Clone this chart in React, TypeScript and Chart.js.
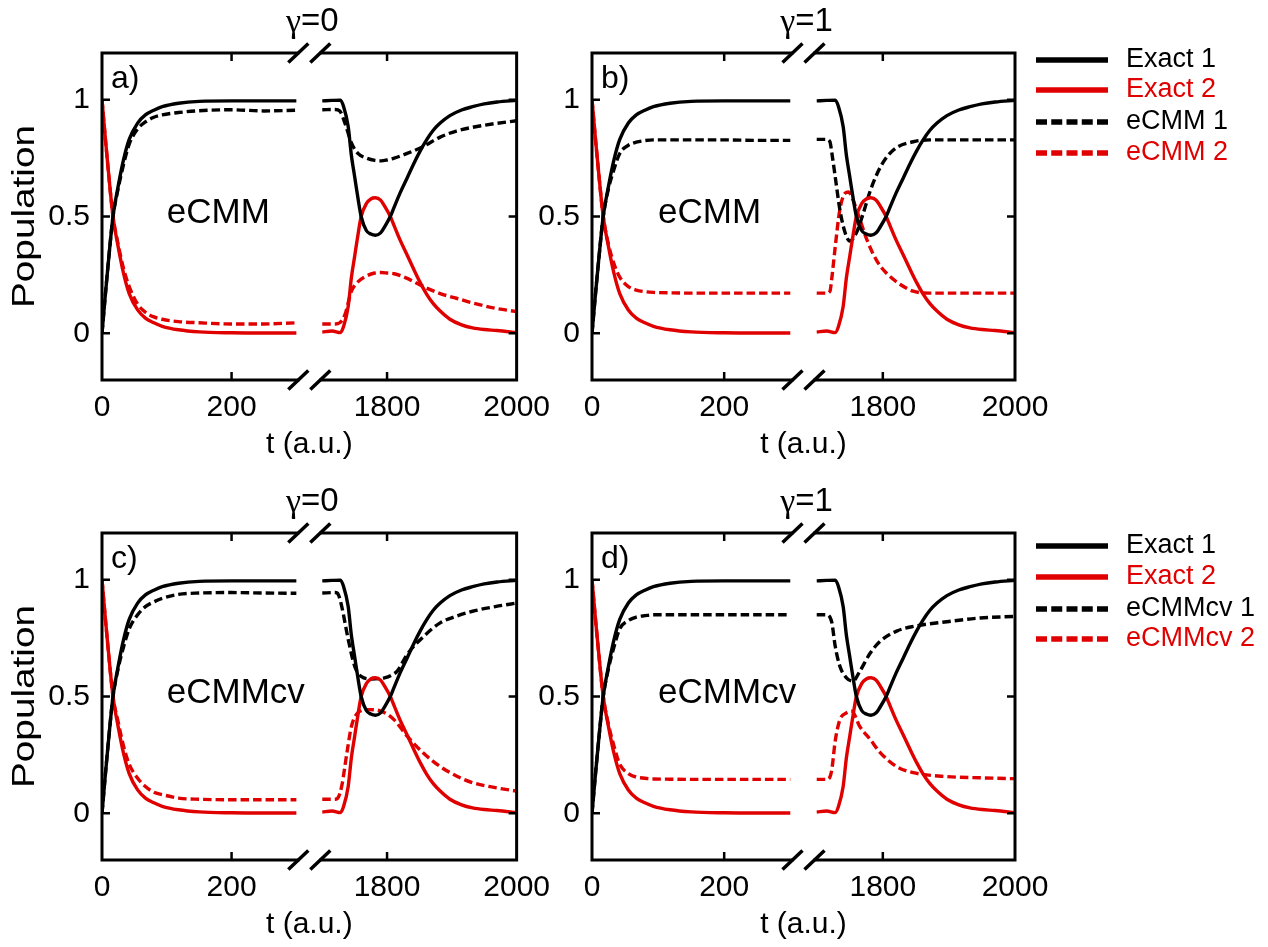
import { useEffect, useRef } from 'react';
import { Chart, registerables } from 'chart.js';
Chart.register(...registerables);

const SANS = "'Liberation Sans', Arial, sans-serif";
const SERIF = "'Liberation Serif', 'Times New Roman', serif";
const BLACK = '#000000';
const RED = '#e00000';

// broken time axis: [0, BREAK_LO] joined to [BREAK_HI, 2000]
const BREAK_LO = 320;
const BREAK_HI = 1680;
const X_TICKS = [0, 200, 1800, 2000];
const Y_TICKS = [0, 0.5, 1];

// ---- exact populations (same in every panel) ----
const tLeft = [0, 5, 10, 17, 25, 33, 42, 55, 67, 80, 93, 118, 150, 200, 250, 300];
const exact1Left = [0, 0.16, 0.31, 0.5, 0.63, 0.74, 0.83, 0.9, 0.935, 0.955, 0.97, 0.985, 0.993, 0.995, 0.995, 0.995];
const exact2Left = [1, 0.84, 0.69, 0.5, 0.37, 0.26, 0.17, 0.1, 0.065, 0.045, 0.03, 0.015, 0.006, 0.002, 0.001, 0.001];
const tExactRight = [1700, 1715, 1728, 1733, 1740, 1745, 1750, 1755, 1760, 1768, 1775, 1782, 1790, 1796, 1805, 1811, 1820, 1831, 1841, 1851, 1861, 1871, 1882, 1897, 1915, 1932, 1950, 1970, 2000];
const exact1Right = [0.995, 0.997, 0.998, 0.97, 0.885, 0.76, 0.67, 0.58, 0.5, 0.44, 0.425, 0.42, 0.43, 0.455, 0.5, 0.54, 0.6, 0.665, 0.725, 0.78, 0.828, 0.868, 0.9, 0.932, 0.956, 0.97, 0.982, 0.99, 0.997];
const exact2Right = [0.005, 0.01, 0.003, 0.03, 0.115, 0.24, 0.33, 0.42, 0.5, 0.555, 0.575, 0.58, 0.57, 0.545, 0.5, 0.46, 0.4, 0.335, 0.275, 0.218, 0.168, 0.128, 0.095, 0.06, 0.036, 0.023, 0.016, 0.012, 0.003];

// ---- panel a: eCMM, gamma = 0 ----
const a_e1Left = [0, 0.16, 0.31, 0.5, 0.62, 0.72, 0.81, 0.875, 0.905, 0.925, 0.935, 0.945, 0.953, 0.957, 0.952, 0.955];
const a_e2Left = [1, 0.84, 0.69, 0.5, 0.38, 0.28, 0.2, 0.125, 0.09, 0.07, 0.06, 0.05, 0.045, 0.04, 0.04, 0.045];
const a_tRight = [1700, 1720, 1727, 1735, 1745, 1755, 1768, 1781, 1791, 1800, 1811, 1831, 1856, 1882, 1907, 1932, 1967, 2000];
const a_e1Right = [0.957, 0.958, 0.952, 0.9, 0.815, 0.77, 0.75, 0.74, 0.738, 0.742, 0.75, 0.77, 0.8, 0.84, 0.866, 0.882, 0.898, 0.91];
const a_e2Right = [0.04, 0.04, 0.045, 0.08, 0.18, 0.22, 0.245, 0.258, 0.26, 0.258, 0.255, 0.235, 0.2, 0.17, 0.15, 0.13, 0.107, 0.093];

// ---- panel b: eCMM, gamma = 1 ----
const b_e1Left = [0, 0.16, 0.31, 0.5, 0.62, 0.7, 0.77, 0.805, 0.818, 0.825, 0.828, 0.828, 0.828, 0.828, 0.826, 0.826];
const b_e2Left = [1, 0.84, 0.69, 0.5, 0.38, 0.3, 0.24, 0.2, 0.185, 0.178, 0.175, 0.173, 0.172, 0.172, 0.172, 0.172];
const b_tRight1 = [1700, 1715, 1720, 1723, 1728, 1735, 1743, 1750, 1760, 1770, 1781, 1796, 1816, 1846, 1871, 1920, 2000];
const b_e1Right = [0.83, 0.83, 0.82, 0.77, 0.67, 0.53, 0.43, 0.395, 0.43, 0.51, 0.61, 0.71, 0.785, 0.82, 0.828, 0.828, 0.828];
const b_tRight2 = [1700, 1715, 1720, 1723, 1728, 1735, 1743, 1748, 1755, 1765, 1776, 1791, 1806, 1826, 1846, 1871, 2000];
const b_e2Right = [0.172, 0.172, 0.18, 0.24, 0.37, 0.53, 0.6, 0.605, 0.57, 0.49, 0.4, 0.31, 0.256, 0.21, 0.18, 0.172, 0.172];

// ---- panel c: eCMMcv, gamma = 0 ----
const c_e1Left = [0, 0.16, 0.31, 0.5, 0.62, 0.71, 0.79, 0.85, 0.885, 0.905, 0.92, 0.937, 0.943, 0.945, 0.943, 0.942];
const c_e2Left = [1, 0.84, 0.69, 0.5, 0.39, 0.29, 0.21, 0.15, 0.115, 0.09, 0.08, 0.065, 0.06, 0.058, 0.058, 0.058];
const c_tRight1 = [1700, 1720, 1725, 1730, 1740, 1750, 1760, 1776, 1796, 1806, 1816, 1831, 1856, 1882, 1907, 1932, 1967, 2000];
const c_e1Right = [0.943, 0.945, 0.935, 0.886, 0.745, 0.63, 0.586, 0.575, 0.58, 0.59, 0.61, 0.68, 0.756, 0.815, 0.844, 0.865, 0.885, 0.9];
const c_tRight2 = [1700, 1720, 1725, 1730, 1738, 1745, 1755, 1771, 1791, 1811, 1831, 1856, 1882, 1907, 1932, 1967, 2000];
const c_e2Right = [0.06, 0.06, 0.07, 0.116, 0.258, 0.372, 0.43, 0.444, 0.437, 0.4, 0.33, 0.258, 0.2, 0.16, 0.131, 0.11, 0.095];

// ---- panel d: eCMMcv, gamma = 1 ----
const d_e1Left = [0, 0.16, 0.31, 0.5, 0.62, 0.71, 0.79, 0.825, 0.84, 0.846, 0.85, 0.85, 0.85, 0.85, 0.85, 0.85];
const d_e2Left = [1, 0.84, 0.69, 0.5, 0.38, 0.29, 0.21, 0.17, 0.155, 0.15, 0.147, 0.146, 0.145, 0.145, 0.145, 0.145];
const d_tRight1 = [1700, 1715, 1720, 1723, 1728, 1735, 1745, 1755, 1765, 1781, 1796, 1821, 1846, 1897, 1947, 2000];
const d_e1Right = [0.85, 0.85, 0.84, 0.815, 0.715, 0.63, 0.58, 0.566, 0.607, 0.686, 0.736, 0.78, 0.8, 0.82, 0.836, 0.843];
const d_tRight2 = [1700, 1715, 1720, 1723, 1728, 1735, 1745, 1753, 1765, 1781, 1796, 1821, 1846, 1897, 1947, 2000];
const d_e2Right = [0.145, 0.145, 0.155, 0.19, 0.31, 0.4, 0.43, 0.437, 0.372, 0.316, 0.26, 0.2, 0.174, 0.157, 0.152, 0.148];

const toAxis = (t: number) => (t <= BREAK_LO ? t : t - (BREAK_HI - BREAK_LO));
const AXIS_MAX = toAxis(2000);

function series(tl: number[], yl: number[], tr: number[], yr: number[]) {
  const pts: { x: number; y: number | null }[] = tl.map((t, i) => ({ x: toAxis(t), y: yl[i] }));
  pts.push({ x: BREAK_LO, y: null });
  tr.forEach((t, i) => pts.push({ x: toAxis(t), y: yr[i] }));
  return pts;
}

type Spec = {
  key: string; left: number; top: number; w: number; h: number; padBottom: number;
  letter: string; method: string; gamma: string; pop: boolean;
  legend: null | { names: string[]; rows: number[] };
  e1: number[][]; e2: number[][];
};

const PANELS: Spec[] = [
  { key: 'a', left: 0, top: 0, w: 560, h: 480, padBottom: 13, letter: 'a)', method: 'eCMM', gamma: '0', pop: true, legend: null,
    e1: [tLeft, a_e1Left, a_tRight, a_e1Right], e2: [tLeft, a_e2Left, a_tRight, a_e2Right] },
  { key: 'b', left: 490, top: 0, w: 778, h: 480, padBottom: 13, letter: 'b)', method: 'eCMM', gamma: '1', pop: false,
    legend: { names: ['Exact 1', 'Exact 2', 'eCMM 1', 'eCMM 2'], rows: [60, 90, 122, 153] },
    e1: [tLeft, b_e1Left, b_tRight1, b_e1Right], e2: [tLeft, b_e2Left, b_tRight2, b_e2Right] },
  { key: 'c', left: 0, top: 480, w: 560, h: 467, padBottom: 0, letter: 'c)', method: 'eCMMcv', gamma: '0', pop: true, legend: null,
    e1: [tLeft, c_e1Left, c_tRight1, c_e1Right], e2: [tLeft, c_e2Left, c_tRight2, c_e2Right] },
  { key: 'd', left: 490, top: 480, w: 778, h: 467, padBottom: 0, letter: 'd)', method: 'eCMMcv', gamma: '1', pop: false,
    legend: { names: ['Exact 1', 'Exact 2', 'eCMMcv 1', 'eCMMcv 2'], rows: [546, 577, 609, 639] },
    e1: [tLeft, d_e1Left, d_tRight1, d_e1Right], e2: [tLeft, d_e2Left, d_tRight2, d_e2Right] },
];

const Y_AXIS_W = 102;
const PLOT_W = 423;
const PAD_TOP = 53;
const X_AXIS_H = 87;

function makeDecor(spec: Spec) {
  return {
    id: 'decor_' + spec.key,
    afterDraw(chart: any) {
      const { ctx, chartArea: ca, scales } = chart;
      const xs = scales.x, ys = scales.y;
      ctx.save();
      // frame
      ctx.strokeStyle = BLACK;
      ctx.lineWidth = 3;
      ctx.strokeRect(ca.left, ca.top, ca.right - ca.left, ca.bottom - ca.top);
      // inward ticks
      ctx.lineWidth = 2.5;
      ctx.beginPath();
      Y_TICKS.forEach((v) => {
        const py = ys.getPixelForValue(v);
        ctx.moveTo(ca.left, py); ctx.lineTo(ca.left + 8, py);
        ctx.moveTo(ca.right, py); ctx.lineTo(ca.right - 8, py);
      });
      X_TICKS.slice(1, -1).forEach((t) => {
        const px = xs.getPixelForValue(toAxis(t));
        ctx.moveTo(px, ca.top); ctx.lineTo(px, ca.top + 8);
        ctx.moveTo(px, ca.bottom); ctx.lineTo(px, ca.bottom - 8);
      });
      ctx.stroke();
      // axis break marks
      const bx = xs.getPixelForValue(BREAK_LO);
      [ca.top, ca.bottom].forEach((yy) => {
        ctx.fillStyle = '#ffffff';
        ctx.fillRect(bx - 10, yy - 3, 20, 6);
        ctx.strokeStyle = BLACK;
        ctx.lineWidth = 3.5;
        ctx.beginPath();
        [-11, 11].forEach((dx) => {
          ctx.moveTo(bx + dx - 10, yy + 9.5);
          ctx.lineTo(bx + dx + 10, yy - 9.5);
        });
        ctx.stroke();
      });
      // gamma label
      ctx.fillStyle = BLACK;
      ctx.textBaseline = 'middle';
      ctx.font = `34px ${SERIF}`;
      const gW = ctx.measureText('γ').width;
      ctx.font = `33px ${SANS}`;
      const rest = '=' + spec.gamma;
      const rW = ctx.measureText(rest).width;
      const gx = bx - (gW + rW) / 2 + 3;
      const gy = ca.top - 31;
      ctx.textAlign = 'left';
      ctx.font = `34px ${SERIF}`;
      ctx.fillText('γ', gx, gy + 1);
      ctx.font = `33px ${SANS}`;
      ctx.fillText(rest, gx + gW, gy);
      // panel letter
      ctx.textBaseline = 'alphabetic';
      ctx.font = `32px ${SANS}`;
      ctx.fillText(spec.letter, ca.left + 9, ca.top + 35);
      // method label
      ctx.textBaseline = 'middle';
      ctx.font = `35px ${SANS}`;
      ctx.fillText(spec.method, xs.getPixelForValue(100), ys.getPixelForValue(0.5) - 3);
      // y axis title
      if (spec.pop) {
        ctx.save();
        ctx.translate(25, (ca.top + ca.bottom) / 2);
        ctx.rotate(-Math.PI / 2);
        ctx.scale(1.25, 1);
        ctx.textAlign = 'center';
        ctx.font = `31px ${SANS}`;
        ctx.fillText('Population', 0, 0);
        ctx.restore();
      }
      // legend
      if (spec.legend) {
        const x0 = 1036 - spec.left, x1 = 1108 - spec.left, tx = 1126 - spec.left;
        spec.legend.names.forEach((name, i) => {
          const yy = spec.legend!.rows[i] - spec.top;
          const color = i % 2 === 0 ? BLACK : RED;
          ctx.strokeStyle = color;
          ctx.lineWidth = 5.5;
          ctx.setLineDash(i >= 2 ? [11, 4.25] : []);
          ctx.beginPath();
          ctx.moveTo(x0, yy); ctx.lineTo(x1, yy);
          ctx.stroke();
          ctx.setLineDash([]);
          ctx.fillStyle = color;
          ctx.font = `27px ${SANS}`;
          ctx.textAlign = 'left';
          ctx.textBaseline = 'middle';
          ctx.fillText(name, tx, yy);
        });
      }
      ctx.restore();
    },
  };
}

function makeConfig(spec: Spec): any {
  const line = (label: string, data: any, color: string, dashed: boolean) => ({
    label, data, borderColor: color, backgroundColor: color, borderWidth: 3.4,
    borderDash: dashed ? [8.5, 4] : [], pointRadius: 0, fill: false,
    cubicInterpolationMode: 'monotone', spanGaps: false,
  });
  const xLabels: Record<number, string> = {};
  X_TICKS.forEach((t) => { xLabels[toAxis(t)] = String(t); });
  return {
    type: 'line',
    data: {
      datasets: [
        line('Exact 1', series(tLeft, exact1Left, tExactRight, exact1Right), BLACK, false),
        line('Exact 2', series(tLeft, exact2Left, tExactRight, exact2Right), RED, false),
        line(spec.method + ' 1', series(spec.e1[0], spec.e1[1], spec.e1[2], spec.e1[3]), BLACK, true),
        line(spec.method + ' 2', series(spec.e2[0], spec.e2[1], spec.e2[2], spec.e2[3]), RED, true),
      ],
    },
    options: {
      animation: false,
      responsive: false,
      maintainAspectRatio: false,
      layout: { padding: { left: 0, top: PAD_TOP, right: spec.w - Y_AXIS_W - PLOT_W, bottom: spec.padBottom } },
      plugins: { legend: { display: false }, tooltip: { enabled: false } },
      scales: {
        x: {
          type: 'linear', min: 0, max: AXIS_MAX,
          grid: { display: false, drawTicks: false },
          border: { display: false },
          afterBuildTicks: (s: any) => { s.ticks = X_TICKS.map((t) => ({ value: toAxis(t) })); },
          afterFit: (s: any) => { s.height = X_AXIS_H; },
          ticks: {
            autoSkip: false, maxRotation: 0, padding: 10, color: BLACK,
            font: { family: SANS, size: 30 },
            callback: (v: number) => xLabels[v] ?? '',
          },
          title: {
            display: true, text: 't (a.u.)', color: BLACK,
            font: { family: SANS, size: 30 }, padding: { top: 0, bottom: 4 },
          },
        },
        y: {
          type: 'linear', min: -0.2, max: 1.2,
          grid: { display: false, drawTicks: false },
          border: { display: false },
          afterBuildTicks: (s: any) => { s.ticks = Y_TICKS.map((v) => ({ value: v })); },
          afterFit: (s: any) => { s.width = Y_AXIS_W; },
          ticks: {
            padding: 12, color: BLACK, font: { family: SANS, size: 30 },
            callback: (v: number) => String(v),
          },
        },
      },
    },
    plugins: [makeDecor(spec)],
  };
}

function Panel({ spec }: { spec: Spec }) {
  const ref = useRef<HTMLCanvasElement>(null);
  useEffect(() => {
    const chart = new Chart(ref.current as HTMLCanvasElement, makeConfig(spec));
    return () => chart.destroy();
  }, [spec]);
  return (
    <canvas
      ref={ref}
      width={spec.w}
      height={spec.h}
      style={{ position: 'absolute', left: spec.left, top: spec.top, width: spec.w, height: spec.h }}
    />
  );
}

export default function App() {
  return (
    <div style={{ position: 'absolute', left: 0, top: 0, width: 1268, height: 947, background: '#ffffff', overflow: 'hidden' }}>
      {PANELS.map((p) => <Panel key={p.key} spec={p} />)}
    </div>
  );
}
